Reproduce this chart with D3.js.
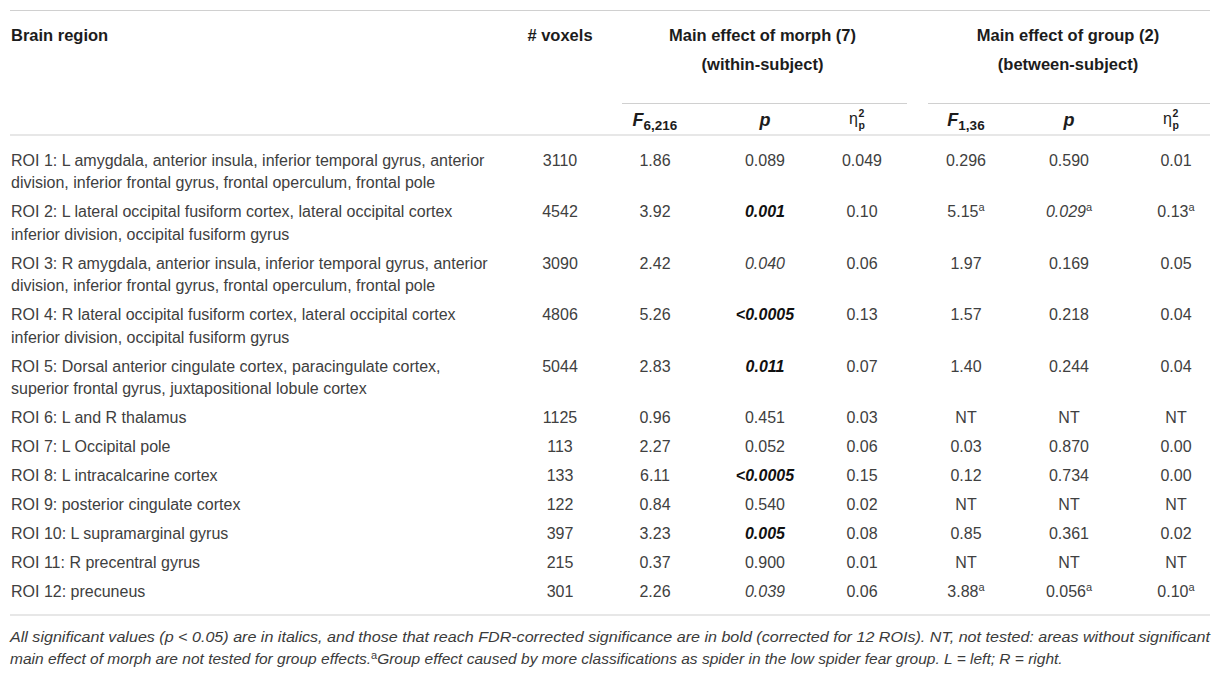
<!DOCTYPE html>
<html lang="en">
  <head>
    <meta charset="utf-8" />
    <title>ROI ANOVA table</title>
    <style>
      body {
        margin: 0;
        background: #fff;
      }
      svg text {
        font-family: "Liberation Sans", Arial, sans-serif;
      }
      .cell {
        fill: #404040;
        font-size: 16px;
      }
      .head {
        fill: #1c1c1c;
        font-size: 16.5px;
        font-weight: bold;
      }
      .rule {
        stroke: #d0d0d0;
        stroke-width: 1.2;
      }
      .note {
        fill: #3b3b3b;
        font-size: 15.5px;
        font-style: italic;
      }
    </style>
    <script src="https://d3js.org/d3.v7.min.js"></script>
  </head>

  <body>
    <svg width="1221" height="675"></svg>

    <script>
      // table contents
      const regions = [
        ['ROI 1: L amygdala, anterior insula, inferior temporal gyrus, anterior',
         'division, inferior frontal gyrus, frontal operculum, frontal pole'],
        ['ROI 2: L lateral occipital fusiform cortex, lateral occipital cortex',
         'inferior division, occipital fusiform gyrus'],
        ['ROI 3: R amygdala, anterior insula, inferior temporal gyrus, anterior',
         'division, inferior frontal gyrus, frontal operculum, frontal pole'],
        ['ROI 4: R lateral occipital fusiform cortex, lateral occipital cortex',
         'inferior division, occipital fusiform gyrus'],
        ['ROI 5: Dorsal anterior cingulate cortex, paracingulate cortex,',
         'superior frontal gyrus, juxtapositional lobule cortex'],
        ['ROI 6: L and R thalamus'],
        ['ROI 7: L Occipital pole'],
        ['ROI 8: L intracalcarine cortex'],
        ['ROI 9: posterior cingulate cortex'],
        ['ROI 10: L supramarginal gyrus'],
        ['ROI 11: R precentral gyrus'],
        ['ROI 12: precuneus'],
      ];
      const voxels = ['3110', '4542', '3090', '4806', '5044', '1125', '113', '133', '122', '397', '215', '301'];
      const fMorph = ['1.86', '3.92', '2.42', '5.26', '2.83', '0.96', '2.27', '6.11', '0.84', '3.23', '0.37', '2.26'];
      const pMorph = ['0.089', '0.001', '0.040', '<0.0005', '0.011', '0.451', '0.052', '<0.0005', '0.540', '0.005', '0.900', '0.039'];
      const etaMorph = ['0.049', '0.10', '0.06', '0.13', '0.07', '0.03', '0.06', '0.15', '0.02', '0.08', '0.01', '0.06'];
      const fGroup = ['0.296', '5.15', '1.97', '1.57', '1.40', 'NT', '0.03', '0.12', 'NT', '0.85', 'NT', '3.88'];
      const pGroup = ['0.590', '0.029', '0.169', '0.218', '0.244', 'NT', '0.870', '0.734', 'NT', '0.361', 'NT', '0.056'];
      const etaGroup = ['0.01', '0.13', '0.05', '0.04', '0.04', 'NT', '0.00', '0.00', 'NT', '0.02', 'NT', '0.10'];
      // 0 = plain, 1 = significant (italic), 2 = FDR significant (bold italic)
      const pMorphSig = [0, 2, 1, 2, 2, 0, 0, 2, 0, 2, 0, 1];
      const pGroupSig = [0, 1, 0, 0, 0, 0, 0, 0, 0, 0, 0, 0];
      // rows carrying footnote "a" in the group columns
      const groupNote = [0, 1, 0, 0, 0, 0, 0, 0, 0, 0, 0, 1];

      const noteLines = [
        'All significant values (p < 0.05) are in italics, and those that reach FDR-corrected significance are in bold (corrected for 12 ROIs). NT, not tested: areas without significant',
        'main effect of morph are not tested for group effects.',
        'Group effect caused by more classifications as spider in the low spider fear group. L = left; R = right.',
      ];

      const svg = d3.select('svg');
      const left = 10,
        right = 1210;

      const cols = ['voxels', 'fM', 'pM', 'eM', 'fG', 'pG', 'eG'];
      const x = d3
        .scaleOrdinal()
        .domain(cols)
        .range([560, 655, 765, 862, 966, 1069, 1176]);

      const rows = regions.map((lines, i) => ({
        lines,
        voxels: voxels[i],
        fM: fMorph[i],
        pM: pMorph[i],
        eM: etaMorph[i],
        fG: fGroup[i],
        pG: pGroup[i],
        eG: etaGroup[i],
        pMs: pMorphSig[i],
        pGs: pGroupSig[i],
        note: groupNote[i],
      }));

      // vertical layout: line pitch inside a row, and row heights
      const bodyTop = 135;
      const pitch = 22.5;
      const rowH = (d) => d.lines.length * pitch + 6.5;
      const offs = [0, ...d3.cumsum(rows, rowH)];
      const y = d3
        .scaleLinear()
        .domain([0, offs[offs.length - 1]])
        .range([bodyTop + 25, bodyTop + 25 + offs[offs.length - 1]]);
      const bodyBottom = y(offs[offs.length - 1]) - 6.5 + 1;

      // rules
      const rules = [
        [left, right, 10.5],
        [622, 907, 103.5],
        [928, right, 103.5],
        [left, right, bodyTop],
        [left, right, bodyBottom],
      ];
      svg
        .selectAll('line.rule')
        .data(rules)
        .join('line')
        .attr('class', 'rule')
        .attr('x1', (d) => d[0])
        .attr('x2', (d) => d[1])
        .attr('y1', (d) => d[2])
        .attr('y2', (d) => d[2]);

      // header
      const head = svg.append('g').attr('class', 'head');
      head.append('text').attr('x', left + 1).attr('y', 35).attr('dy', '0.35em').text('Brain region');
      head.append('text').attr('x', x('voxels')).attr('y', 35).attr('dy', '0.35em').attr('text-anchor', 'middle').text('# voxels');
      const groups = [
        ['Main effect of morph (7)', '(within-subject)', (x('fM') + x('eM')) / 2 + 4],
        ['Main effect of group (2)', '(between-subject)', (x('fG') + x('eG')) / 2 - 3],
      ];
      groups.forEach(([a, b, cx]) => {
        head.append('text').attr('x', cx).attr('y', 35).attr('dy', '0.35em').attr('text-anchor', 'middle').text(a);
        head.append('text').attr('x', cx).attr('y', 64).attr('dy', '0.35em').attr('text-anchor', 'middle').text(b);
      });

      const subY = 120;
      const fHead = (key, sub) => {
        const t = head
          .append('text')
          .attr('x', x(key))
          .attr('y', subY)
          .attr('dy', '0.35em')
          .attr('text-anchor', 'middle');
        t.append('tspan').style('font-style', 'italic').style('font-size', '18px').text('F');
        t.append('tspan').attr('dy', 4).style('font-size', '13.5px').text(sub);
      };
      fHead('fM', '6,216');
      fHead('fG', '1,36');
      ['pM', 'pG'].forEach((k) =>
        head
          .append('text')
          .attr('x', x(k))
          .attr('y', subY)
          .attr('dy', '0.35em')
          .attr('text-anchor', 'middle')
          .style('font-style', 'italic')
          .style('font-size', '18px')
          .text('p'),
      );
      // eta squared with stacked super/subscript
      ['eM', 'eG'].forEach((k) => {
        const cx = x(k) - 4;
        head.append('text').attr('x', cx).attr('y', subY + 4).attr('text-anchor', 'end')
          .style('font-weight', 'normal').style('font-size', '16px').text('η');
        head.append('text').attr('x', cx + 0.5).attr('y', subY - 3.5).style('font-size', '10.5px').text('2');
        head.append('text').attr('x', cx + 0.5).attr('y', subY + 8.5).style('font-size', '10.5px').text('p');
      });

      // body
      const body = svg
        .append('g')
        .selectAll('g.row')
        .data(rows)
        .join('g')
        .attr('class', 'row')
        .attr('transform', (d, i) => `translate(0,${y(offs[i])})`);

      body
        .selectAll('text.region')
        .data((d) => d.lines)
        .join('text')
        .attr('class', 'cell region')
        .attr('x', left + 1)
        .attr('y', (d, j) => j * pitch)
        .attr('dy', '0.35em')
        .text((d) => d);

      cols.forEach((key) => {
        const t = body
          .append('text')
          .attr('class', 'cell')
          .attr('x', x(key))
          .attr('dy', '0.35em')
          .attr('text-anchor', 'middle');
        t.append('tspan')
          .style('font-style', (d) =>
            (key === 'pM' && d.pMs > 0) || (key === 'pG' && d.pGs > 0) ? 'italic' : null,
          )
          .style('font-weight', (d) => (key === 'pM' && d.pMs === 2 ? 'bold' : null))
          .style('fill', (d) => (key === 'pM' && d.pMs === 2 ? '#111' : null))
          .text((d) => d[key]);
        if (key[1] === 'G') {
          t.filter((d) => d.note)
            .append('tspan')
            .attr('dy', -6)
            .style('font-size', '11px')
            .text('a');
        }
      });

      // footnote
      const noteY = bodyBottom + 22;
      const n1 = svg.append('text').attr('class', 'note').attr('x', left).attr('y', noteY).attr('dy', '0.35em')
        .attr('textLength', right - left).attr('lengthAdjust', 'spacingAndGlyphs');
      n1.text(noteLines[0]);
      const n2 = svg.append('text').attr('class', 'note').attr('x', left).attr('y', noteY + 22).attr('dy', '0.35em');
      n2.append('tspan').text(noteLines[1]);
      n2.append('tspan').attr('dy', -5).style('font-size', '11px').style('font-style', 'normal').text('a');
      n2.append('tspan').attr('dy', 5).text(noteLines[2]);
    </script>
  </body>
</html>
